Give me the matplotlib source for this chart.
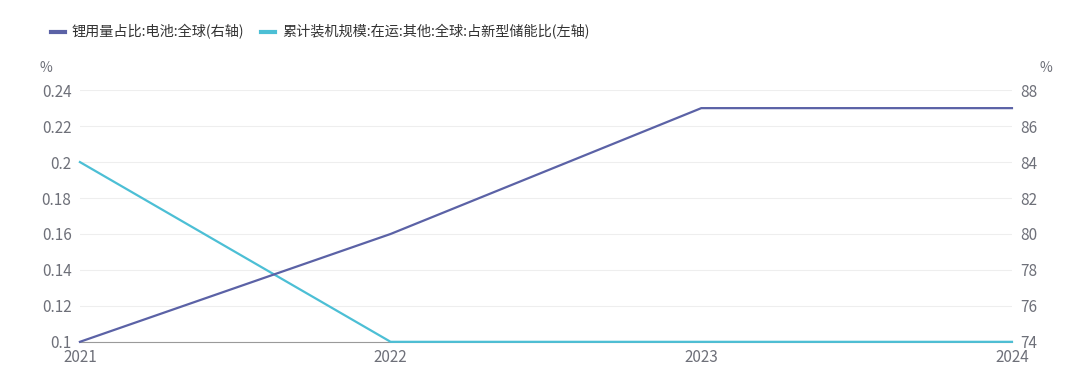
import matplotlib.pyplot as plt

plt.rcParams['font.family'] = ['Noto Sans CJK SC', 'DejaVu Sans']

years = ['2021', '2022', '2023', '2024']
li_share = [74, 80, 87, 87]            # 锂用量占比:电池:全球 (右轴)
other_share = [0.2, 0.1, 0.1, 0.1]     # 累计装机规模:在运:其他:全球:占新型储能比 (左轴)
left_ticks = [0.1, 0.12, 0.14, 0.16, 0.18, 0.2, 0.22, 0.24]
right_ticks = [74, 76, 78, 80, 82, 84, 86, 88]

c_dark = '#5b62a6'
c_light = '#4cbfd5'
c_text = '#6e7079'

fig = plt.figure(figsize=(10.8, 3.92), dpi=100)
ax = fig.add_axes([0.074, 0.128, 0.863, 0.642])
ax2 = ax.twinx()

x = range(len(years))
l2, = ax.plot(x, other_share, color=c_light, lw=1.6, clip_on=False, zorder=3)
l1, = ax2.plot(x, li_share, color=c_dark, lw=1.6, clip_on=False, zorder=3)

ax.set_xlim(0, len(years) - 1)
ax.set_ylim(0.1, 0.24)
ax2.set_ylim(74, 88)
ax.set_yticks(left_ticks)
ax.set_yticklabels([f'{v:g}' for v in left_ticks])
ax2.set_yticks(right_ticks)
ax.set_xticks(list(x))
ax.set_xticklabels(years)

ax.grid(axis='y', color='#eeeeee', lw=0.8)
for a in (ax, ax2):
    for s in a.spines.values():
        s.set_visible(False)
    a.tick_params(length=0, labelsize=11, labelcolor=c_text)
ax.spines['bottom'].set_visible(True)
ax.spines['bottom'].set_color('#9a9a9a')
ax.tick_params(axis='y', pad=6)
ax2.tick_params(axis='y', pad=6)
ax.tick_params(axis='x', pad=5)

ax.text(-0.03, 1.06, '%', transform=ax.transAxes, ha='right', va='bottom',
        fontsize=10, color=c_text)
ax2.text(1.03, 1.06, '%', transform=ax.transAxes, ha='left', va='bottom',
         fontsize=10, color=c_text)

fig.legend([l1, l2], ['锂用量占比:电池:全球(右轴)', '累计装机规模:在运:其他:全球:占新型储能比(左轴)'],
           loc='upper left', bbox_to_anchor=(0.035, 0.97), ncol=2, frameon=False,
           fontsize=10.2, handlelength=1.0, handletextpad=0.5, columnspacing=1.2,
           labelcolor='#333333')
for h in fig.legends[0].legend_handles:
    h.set_linewidth(3)

fig.savefig('out.png', dpi=100)
